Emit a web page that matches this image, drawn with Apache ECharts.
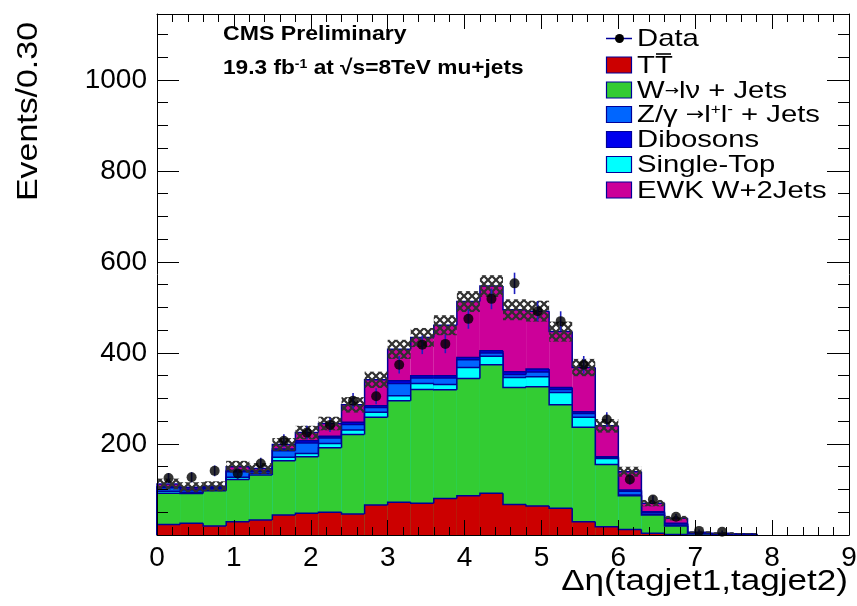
<!DOCTYPE html>
<html>
<head>
<meta charset="utf-8">
<script src="https://cdn.jsdelivr.net/npm/echarts@6/dist/echarts.min.js"></script>
<style>
  html, body { margin: 0; padding: 0; background: #ffffff; }
  #chart { width: 857px; height: 606px; }
</style>
</head>
<body>
<div id="chart"></div>
<script>
// Δη(tagjet1, tagjet2) distribution, 30 bins of width 0.30 from 0 to 9
const binWidth = 0.3;

// Stacked simulation, listed from the bottom of the stack upwards (events per bin)
const ttbar     = [23, 26, 20, 29, 33, 44, 48, 50, 46, 66, 72, 70, 80, 86, 92, 67, 64, 59, 29, 18, 12, 4, 1, 0, 0, 0, 0, 0, 0, 0];
const wjets     = [69, 65, 77, 93, 99, 119, 124, 142, 175, 193, 223, 250, 239, 258, 282, 257, 262, 227, 208, 137, 74, 40, 19, 2, 1, 1, 0, 0, 0, 0];
const singleTop = [4, 3, 2, 5, 3, 8, 7, 9, 10, 11, 11, 13, 12, 24, 19, 22, 22, 27, 22, 13, 2, 1, 1, 0, 0, 0, 0, 0, 0, 0];
const zjets     = [8, 5, 4, 12, 4, 14, 23, 12, 12, 10, 27, 12, 14, 17, 7, 7, 10, 7, 8, 3, 8, 4, 3, 1, 1, 0, 0, 0, 0, 0];
const dibosons  = [2, 2, 1, 3, 2, 4, 5, 4, 5, 4, 6, 5, 5, 5, 5, 6, 7, 4, 4, 1, 3, 2, 2, 1, 1, 1, 0, 0, 0, 0];
const ewk       = [6, 4, 3, 8, 5, 10, 18, 28, 38, 57, 69, 84, 111, 123, 142, 136, 127, 123, 97, 68, 40, 19, 11, 2, 1, 1, 0, 0, 0, 0];

// Uncertainty on the total simulation (half-height of the hatched band)
const mcError   = [12, 11, 11, 13, 12, 14, 15, 15, 17, 18, 21, 21, 22, 23, 24, 23, 23, 22, 19, 15, 11, 7, 5, 2, 2, 1, 0, 0, 0, 0];

// Observed events
const dataCounts = [125, 127, 141, 135, 157, 207, 225, 242, 295, 305, 374, 418, 420, 475, 519, 553, 492, 470, 374, 254, 122, 78, 40, 9, 7, null, null, null, null, null];

// Axis tick labels
const xTicks = [0, 1, 2, 3, 4, 5, 6, 7, 8, 9];
const yTicks = [200, 400, 600, 800, 1000];

const FONT = "'Liberation Sans', Arial, Helvetica, sans-serif";
const OUTLINE = '#000099';

const layers = [
  { name: 'TT',             values: ttbar,     color: '#cc0000' },
  { name: 'W+Jets',         values: wjets,     color: '#33cc33' },
  { name: 'Single-Top',     values: singleTop, color: '#00ffff' },
  { name: 'Z+Jets',         values: zjets,     color: '#0066ff' },
  { name: 'Dibosons',       values: dibosons,  color: '#0000ee' },
  { name: 'EWK W+2Jets',    values: ewk,       color: '#cc0099' }
];

const nBins = ttbar.length;
let running = new Array(nBins).fill(0);
const stacked = layers.map(l => {
  running = running.map((v, i) => v + l.values[i]);
  return running.slice();
});
const total = stacked[stacked.length - 1];

function hatchTile() {
  const c = document.createElement('canvas');
  c.width = 8; c.height = 8;
  const g = c.getContext('2d');
  g.strokeStyle = '#303030';
  g.lineWidth = 2.2;
  g.beginPath();
  g.moveTo(-2, -2); g.lineTo(10, 10);
  g.moveTo(10, -2); g.lineTo(-2, 10);
  g.stroke();
  return c;
}
const hatch = { image: hatchTile(), repeat: 'repeat' };

const series = [];

// Cumulative histograms, widest first so smaller ones paint over them
for (let k = layers.length - 1; k >= 0; k--) {
  const cum = stacked[k];
  const color = layers[k].color;
  series.push({
    type: 'custom',
    name: layers[k].name,
    silent: true,
    animation: false,
    xAxisIndex: 0,
    yAxisIndex: 0,
    data: cum.map((v, i) => [i * binWidth, v, i > 0 ? cum[i - 1] : 0]),
    renderItem: (params, api) => {
      const lo = api.value(0), top = api.value(1), prev = api.value(2);
      if (top <= 0 && prev <= 0) return null;
      const a = api.coord([lo, 0]);
      const b = api.coord([lo + binWidth, top]);
      const p = api.coord([lo, prev]);
      const children = [];
      if (top > 0) {
        children.push({
          type: 'rect',
          shape: { x: a[0], y: b[1], width: b[0] - a[0], height: a[1] - b[1] },
          style: { fill: color }
        });
      }
      const pts = top > 0
        ? [[a[0], p[1]], [a[0], b[1]], [b[0], b[1]]]
        : [[a[0], p[1]], [a[0], a[1]]];
      children.push({
        type: 'polyline',
        shape: { points: pts },
        style: { stroke: OUTLINE, lineWidth: 1.5, fill: null }
      });
      return { type: 'group', children };
    }
  });
}

// Hatched uncertainty band around the total
series.push({
  type: 'custom',
  silent: true,
  animation: false,
  data: total.map((v, i) => [i * binWidth, v, mcError[i]]),
  renderItem: (params, api) => {
    const lo = api.value(0), t = api.value(1), e = api.value(2);
    if (e <= 0) return null;
    const a = api.coord([lo, t - e]);
    const b = api.coord([lo + binWidth, t + e]);
    return {
      type: 'rect',
      shape: { x: a[0], y: b[1], width: b[0] - a[0], height: a[1] - b[1] },
      style: { fill: hatch }
    };
  }
});

// Data: statistical error bars and markers
const dataPoints = [];
dataCounts.forEach((n, i) => {
  if (n !== null) dataPoints.push([(i + 0.5) * binWidth, n]);
});
series.push({
  type: 'custom',
  silent: true,
  animation: false,
  data: dataPoints.map(d => [d[0], d[1], Math.sqrt(d[1])]),
  renderItem: (params, api) => {
    const x = api.value(0), n = api.value(1), e = api.value(2);
    const a = api.coord([x, n - e]);
    const b = api.coord([x, n + e]);
    return {
      type: 'line',
      shape: { x1: a[0], y1: a[1], x2: b[0], y2: b[1] },
      style: { stroke: '#1f1fc0', lineWidth: 1.6 }
    };
  }
});
series.push({
  type: 'scatter',
  name: 'Data',
  silent: true,
  animation: false,
  symbol: 'circle',
  symbolSize: 10,
  itemStyle: { color: '#000000' },
  data: dataPoints
});

const axisLineStyle = { lineStyle: { color: '#000000', width: 1 } };

function xAxisDef(pos, showLabels) {
  return {
    type: 'value', position: pos, min: xTicks[0], max: xTicks[xTicks.length - 1], interval: 1,
    z: 10,
    axisLine: Object.assign({ show: true, onZero: false }, axisLineStyle),
    axisTick: { show: true, inside: true, length: 15, lineStyle: { color: '#000000', width: 1 } },
    minorTick: { show: true, splitNumber: 5, length: 8, lineStyle: { color: '#000000', width: 1 } },
    splitLine: { show: false },
    minorSplitLine: { show: false },
    axisLabel: {
      show: showLabels, fontSize: 28, color: '#000000', fontFamily: FONT, margin: 9,
      formatter: v => xTicks.indexOf(v) >= 0 ? String(v) : ''
    }
  };
}

function yAxisDef(pos, step, tickLen, showLabels, showLine) {
  return {
    type: 'value', position: pos, min: 0, max: 1145, interval: step,
    z: 10,
    axisLine: Object.assign({ show: showLine, onZero: false }, axisLineStyle),
    axisTick: { show: true, inside: true, length: tickLen, lineStyle: { color: '#000000', width: 1 } },
    splitLine: { show: false },
    axisLabel: {
      show: showLabels, fontSize: 28, color: '#000000', fontFamily: FONT, margin: 10,
      showMaxLabel: false,
      formatter: v => yTicks.indexOf(v) >= 0 ? String(v) : ''
    }
  };
}

const legendRows = [38.5, 65, 90, 114.5, 139.5, 164.5, 190];
const legendTextX = 637;
const legendScale = 1.22;

function legendBox(row, color) {
  return {
    type: 'rect',
    shape: { x: 606.5, y: legendRows[row] - 8, width: 25, height: 16 },
    style: { fill: color, stroke: OUTLINE, lineWidth: 1.2 }
  };
}
function legendText(row, text, rich) {
  return {
    type: 'text',
    x: legendTextX, y: legendRows[row] + 1,
    scaleX: legendScale,
    style: {
      text: text, fill: '#000000', fontSize: 24, fontFamily: FONT,
      align: 'left', verticalAlign: 'middle', rich: rich || {}
    }
  };
}

const arrowStyle = { fontSize: 30, fontFamily: "'DejaVu Sans', sans-serif", padding: [0, 0, 3, 0] };

const graphics = [
  // Axis titles
  {
    type: 'text', x: 29, y: 22, rotation: Math.PI / 2, scaleX: 1.13,
    style: { text: 'Events/0.30', fontSize: 30, fontFamily: FONT, fill: '#000000', align: 'right', verticalAlign: 'middle' }
  },
  {
    type: 'text', x: 848, y: 582, scaleX: 1.17,
    style: { text: 'Δη(tagjet1,tagjet2)', fontSize: 30, fontFamily: FONT, fill: '#000000', align: 'right', verticalAlign: 'middle' }
  },
  // Experiment labels
  {
    type: 'text', x: 223, y: 34, scaleX: 1.1,
    style: { text: 'CMS Preliminary', fontSize: 21, fontWeight: 'bold', fontFamily: FONT, fill: '#000000', align: 'left', verticalAlign: 'middle' }
  },
  {
    type: 'text', x: 223, y: 68, scaleX: 1.08,
    style: {
      text: '19.3 fb{sup|-1} at √s=8TeV mu+jets',
      fontSize: 21, fontWeight: 'bold', fontFamily: FONT, fill: '#000000', align: 'left', verticalAlign: 'middle',
      rich: { sup: { fontSize: 13, fontWeight: 'bold', fontFamily: FONT, verticalAlign: 'top', padding: [0, 0, 8, 0] } }
    }
  },
  // Legend: data entry
  {
    type: 'line',
    shape: { x1: 606, y1: legendRows[0], x2: 632, y2: legendRows[0] },
    style: { stroke: OUTLINE, lineWidth: 1.5 }
  },
  {
    type: 'circle',
    shape: { cx: 619.5, cy: legendRows[0], r: 4.5 },
    style: { fill: '#000000' }
  },
  legendText(0, 'Data'),
  legendBox(1, layers[0].color),
  legendText(1, 'TT'),
  {
    type: 'line',
    shape: { x1: 656, y1: legendRows[1] - 11, x2: 671, y2: legendRows[1] - 11 },
    style: { stroke: '#000000', lineWidth: 1.6 }
  },
  legendBox(2, layers[1].color),
  legendText(2, 'W{arr|→}lν + Jets', { arr: { fontSize: 14, fontFamily: "'DejaVu Sans', sans-serif" } }),
  legendBox(3, layers[3].color),
  legendText(3, 'Z/γ {arr|→}l{sup|+}l{sup|-} + Jets', {
    arr: { fontSize: 18, fontFamily: "'DejaVu Sans', sans-serif" },
    sup: { fontSize: 14, fontFamily: FONT, verticalAlign: 'top', padding: [0, 0, 8, 0] }
  }),
  legendBox(4, layers[4].color),
  legendText(4, 'Dibosons'),
  legendBox(5, layers[2].color),
  legendText(5, 'Single-Top'),
  legendBox(6, layers[5].color),
  legendText(6, 'EWK W+2Jets')
];

const chart = echarts.init(document.getElementById('chart'), null, { renderer: 'canvas' });
chart.setOption({
  backgroundColor: '#ffffff',
  animation: false,
  grid: { left: 157, right: 8, top: 14, bottom: 71, containLabel: false, outerBoundsMode: 'none' },
  xAxis: [xAxisDef('bottom', true), xAxisDef('top', false)],
  yAxis: [
    yAxisDef('left', 200, 22, true, true),
    yAxisDef('left', 50, 11, false, false),
    yAxisDef('right', 200, 22, false, true),
    yAxisDef('right', 50, 11, false, false)
  ],
  series: series,
  graphic: graphics
});
</script>
</body>
</html>
